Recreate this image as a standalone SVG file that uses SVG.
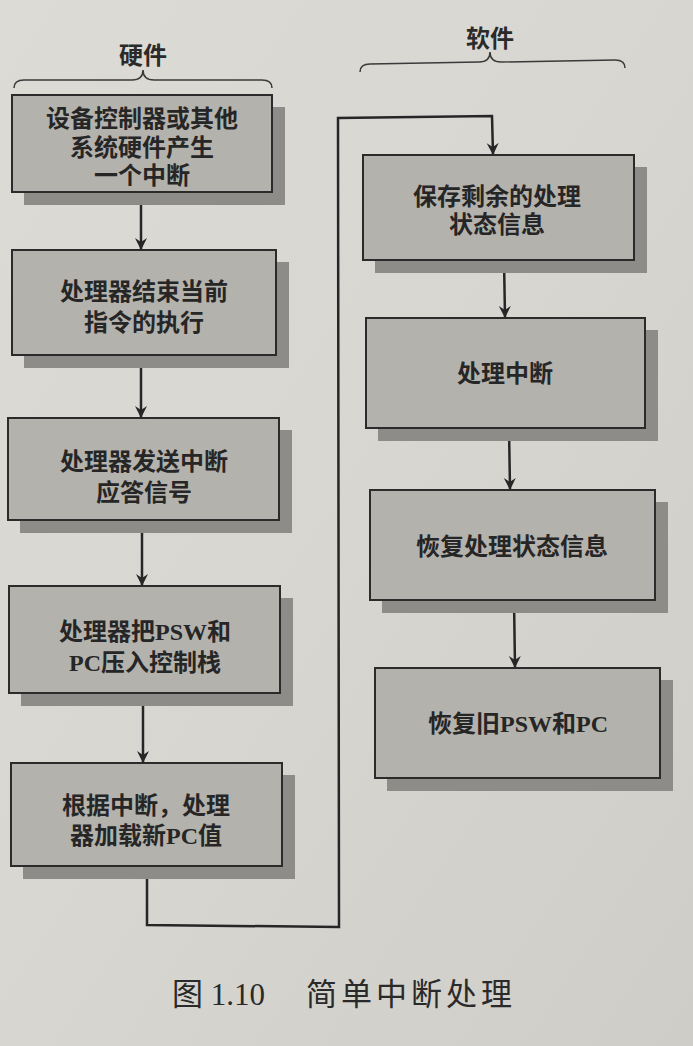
<svg xmlns="http://www.w3.org/2000/svg" width="693" height="1046" viewBox="0 0 693 1046">
  <defs>
    <linearGradient id="paper" x1="0" y1="0" x2="1" y2="1">
      <stop offset="0" stop-color="#dddbd6"/>
      <stop offset="0.5" stop-color="#d8d6d1"/>
      <stop offset="1" stop-color="#cfcdc8"/>
    </linearGradient>
    <marker id="arrow" viewBox="0 0 12 16" refX="11" refY="8" markerWidth="12" markerHeight="16" markerUnits="userSpaceOnUse" orient="auto">
      <path d="M0,2 L12,8 L0,14 L4,8 Z" fill="#262626"/>
    </marker>
    <style>
      .box { fill: #b4b2ad; stroke: #2b2b2b; stroke-width: 2; }
      .shadow { fill: #8e8c88; }
      .label { font-family: "Liberation Serif", "Noto Sans CJK SC", serif; font-size: 24px; fill: #262626; text-anchor: middle; font-weight: 700; }
      .head { font-family: "Liberation Serif", "Noto Sans CJK SC", serif; font-size: 24px; fill: #2a2a2a; text-anchor: middle; font-weight: 700; }
      .caption { font-family: "Liberation Serif", "Noto Sans CJK SC", serif; font-size: 31px; fill: #2a2a2a; }
      .wire { fill: none; stroke: #262626; stroke-width: 2.5; }
      .brace { fill: none; stroke: #3a3a3a; stroke-width: 1.5; }
    </style>
  </defs>

  <rect width="693" height="1046" fill="url(#paper)"/>

  <!-- section headings with braces -->
  <g id="hardware-heading">
    <text class="head" x="143" y="64">硬件</text>
    <path class="brace" d="M14,88 Q14,80 24,80 L132,80 Q143,80 143,70 Q143,80 154,80 L262,80 Q272,80 272,88"/>
  </g>
  <g id="software-heading">
    <text class="head" x="490" y="47">软件</text>
    <path class="brace" d="M360,72 Q360,64 370,64 L479,62 Q490,62 490,52 Q490,62 501,62 L615,60 Q625,60 625,68"/>
  </g>

  <!-- connectors -->
  <g id="connectors">
    <line class="wire" x1="141" y1="192" x2="141" y2="249" marker-end="url(#arrow)"/>
    <line class="wire" x1="141" y1="355" x2="141" y2="417" marker-end="url(#arrow)"/>
    <line class="wire" x1="142" y1="520" x2="142" y2="585" marker-end="url(#arrow)"/>
    <line class="wire" x1="143" y1="693" x2="143" y2="762" marker-end="url(#arrow)"/>
    <polyline class="wire" points="147,866 147,925 339,927 338,118 492,116 493,154" marker-end="url(#arrow)"/>
    <line class="wire" x1="504" y1="260" x2="505" y2="317" marker-end="url(#arrow)"/>
    <line class="wire" x1="509" y1="428" x2="510" y2="489" marker-end="url(#arrow)"/>
    <line class="wire" x1="514" y1="600" x2="515" y2="667" marker-end="url(#arrow)"/>
  </g>

  <!-- hardware steps -->
  <g id="step-interrupt">
    <rect class="shadow" x="24" y="107" width="261" height="98"/>
    <rect class="box" x="12" y="95" width="260" height="97"/>
    <text class="label" x="142" y="127">设备控制器或其他</text>
    <text class="label" x="142" y="156">系统硬件产生</text>
    <text class="label" x="142" y="184">一个中断</text>
  </g>
  <g id="step-finish">
    <rect class="shadow" x="24" y="262" width="265" height="106"/>
    <rect class="box" x="12" y="250" width="264" height="105"/>
    <text class="label" x="144" y="300">处理器结束当前</text>
    <text class="label" x="144" y="331">指令的执行</text>
  </g>
  <g id="step-ack">
    <rect class="shadow" x="20" y="430" width="272" height="103"/>
    <rect class="box" x="8" y="418" width="271" height="102"/>
    <text class="label" x="144" y="470">处理器发送中断</text>
    <text class="label" x="144" y="501">应答信号</text>
  </g>
  <g id="step-push">
    <rect class="shadow" x="21" y="598" width="272" height="108"/>
    <rect class="box" x="9" y="586" width="271" height="107"/>
    <text class="label" x="145" y="640">处理器把PSW和</text>
    <text class="label" x="145" y="671">PC压入控制栈</text>
  </g>
  <g id="step-load">
    <rect class="shadow" x="23" y="775" width="272" height="104"/>
    <rect class="box" x="11" y="763" width="271" height="103"/>
    <text class="label" x="146" y="814">根据中断，处理</text>
    <text class="label" x="146" y="844">器加载新PC值</text>
  </g>

  <!-- software steps -->
  <g id="step-save">
    <rect class="shadow" x="375" y="167" width="272" height="106"/>
    <rect class="box" x="363" y="155" width="271" height="105"/>
    <text class="label" x="497" y="205">保存剩余的处理</text>
    <text class="label" x="497" y="233">状态信息</text>
  </g>
  <g id="step-handle">
    <rect class="shadow" x="378" y="330" width="280" height="111"/>
    <rect class="box" x="366" y="318" width="279" height="110"/>
    <text class="label" x="505" y="382">处理中断</text>
  </g>
  <g id="step-restore-state">
    <rect class="shadow" x="382" y="502" width="286" height="111"/>
    <rect class="box" x="370" y="490" width="285" height="110"/>
    <text class="label" x="512" y="555">恢复处理状态信息</text>
  </g>
  <g id="step-restore-psw">
    <rect class="shadow" x="387" y="680" width="286" height="111"/>
    <rect class="box" x="375" y="668" width="285" height="110"/>
    <text class="label" x="518" y="732">恢复旧PSW和PC</text>
  </g>

  <!-- figure caption -->
  <g id="caption">
    <text class="caption" x="172" y="1005">图 1.10</text>
    <text class="caption" x="306" y="1005" letter-spacing="4">简单中断处理</text>
  </g>
</svg>
